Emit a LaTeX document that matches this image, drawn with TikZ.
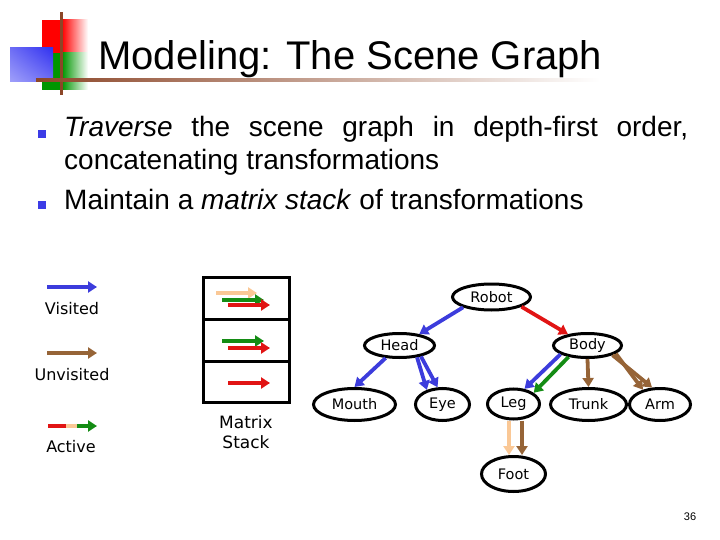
\documentclass[tikz,border=0pt]{standalone}
\usepackage{fontspec}
\setmainfont{Liberation Sans}
\newfontfamily\handfont{DejaVu Sans}
\usetikzlibrary{shapes.geometric,arrows.meta,shadings}
\definecolor{visclr}{RGB}{60,60,220}
\definecolor{unvclr}{RGB}{150,100,55}
\definecolor{curclr}{RGB}{225,20,20}
\definecolor{actclr}{RGB}{20,140,20}
\definecolor{pushclr}{RGB}{250,200,150}
\definecolor{bulclr}{RGB}{60,60,230}
\definecolor{logobrown}{RGB}{140,70,40}
\definecolor{logogreen}{RGB}{0,150,0}
\definecolor{logoblue}{RGB}{50,50,240}
\definecolor{logoblueA}{RGB}{110,110,245}
\definecolor{logoblueB}{RGB}{160,160,250}
\tikzset{
  tnode/.style={ellipse,draw,line width=3pt,inner sep=0pt,
                font=\handfont\fontsize{14.5}{16}\selectfont},
  arr/.style={line width=3.8pt,-{Triangle[length=9pt,width=11pt]}},
  visited/.style={arr,draw=visclr},
  unvisited/.style={arr,draw=unvclr},
  active/.style={arr,draw=actclr},
  pushed/.style={arr,draw=pushclr},
  current/.style={arr,draw=curclr},
  cell/.style={rectangle,draw,line width=3pt,minimum width=86pt,inner sep=0pt},
  legend/.style={font=\handfont\fontsize{16}{18}\selectfont},
  bullet/.style={rectangle,fill=bulclr,minimum size=8pt,inner sep=0pt},
}

\begin{document}
\begin{tikzpicture}[x=1pt,y=-1pt]
\useasboundingbox (0,0) rectangle (720,540);
% logo
\fill[red] (42,20) rectangle (62,53);
\shade[left color=red,right color=white] (62,20) rectangle (88,53);
\fill[logogreen] (42,53) rectangle (62,90);
\shade[left color=logogreen,right color=white] (62,53) rectangle (88,90);
\shade[upper right=logoblue,lower left=logoblueB,upper left=logoblueA,lower right=logoblueA]
  (10,48) rectangle (53,82);
\fill[logobrown] (59.5,12) rectangle (62.5,95);
\shade[left color=logobrown,right color=white] (36,78.5) rectangle (600,81.5);
% title and bullets
\node[anchor=base west,inner sep=0pt,font=\fontsize{40}{40}\selectfont] (title) at (98,70)
  {Modeling: The Scene Graph};
\node[bullet] (b1) at (42,134) {};
\node[bullet] (b2) at (42,205) {};
\node[anchor=base west,inner sep=0pt,font=\fontsize{28}{33}\selectfont] (line1) at (64,137)
  {\makebox[624pt][s]{\textit{Traverse} the scene graph in depth-first order,}};
\node[anchor=base west,inner sep=0pt,font=\fontsize{28}{33}\selectfont] (line2) at (64,170)
  {concatenating transformations};
\node[anchor=base west,inner sep=0pt,font=\fontsize{28}{33}\selectfont] (line3) at (64,210)
  {Maintain a \textit{matrix stack} of transformations};
% legend
\coordinate (vis-a) at (47,287); \coordinate (vis-b) at (97,287);
\coordinate (unv-a) at (47,353); \coordinate (unv-b) at (97,353);
\coordinate (act-a) at (48,426); \coordinate (act-b) at (66,426);
\coordinate (act-c) at (77,426); \coordinate (act-d) at (97,426);
\draw[visited] (vis-a) -- (vis-b);
\draw[unvisited] (unv-a) -- (unv-b);
\draw[line width=3.8pt,curclr] (act-a) -- (act-b);
\draw[line width=3.8pt,pushclr] (act-b) -- (act-c);
\draw[active] (act-c) -- (act-d);
\node[legend] (lvis) at (72,309) {Visited};
\node[legend] (lunv) at (72,375) {Unvisited};
\node[legend] (lact) at (71,447) {Active};
% matrix stack
\node[cell,minimum height=42pt] (top) at (246,298) {};
\node[cell,minimum height=42pt] (mid) at (246,340) {};
\node[cell,minimum height=41pt] (bot) at (246,381.5) {};
\coordinate (t1a) at (216,293); \coordinate (t1b) at (257,293);
\coordinate (t2a) at (222,300); \coordinate (t2b) at (264,300);
\coordinate (t3a) at (228,305); \coordinate (t3b) at (270,305);
\coordinate (m1a) at (222,341); \coordinate (m1b) at (264,341);
\coordinate (m2a) at (228,348); \coordinate (m2b) at (270,348);
\coordinate (b1a) at (228,383); \coordinate (b1b) at (270,383);
\draw[pushed] (t1a) -- (t1b);
\draw[active] (t2a) -- (t2b);
\draw[current] (t3a) -- (t3b);
\draw[active] (m1a) -- (m1b);
\draw[current] (m2a) -- (m2b);
\draw[current] (b1a) -- (b1b);
\node[align=center,font=\handfont\fontsize{17}{20}\selectfont] (stk) at (246,432) {Matrix\\Stack};
% scene graph
\node[tnode,minimum width=78pt,minimum height=26pt] (robot) at (491.5,297) {Robot};
\node[tnode,minimum width=70pt,minimum height=24pt] (head)  at (399.5,345.5) {Head};
\node[tnode,minimum width=68pt,minimum height=24pt] (body)  at (587.5,345.5) {Body};
\node[tnode,minimum width=82pt,minimum height=32pt] (mouth) at (354.5,404.5) {Mouth};
\node[tnode,minimum width=54pt,minimum height=32pt] (eye)   at (442.5,404.5) {Eye};
\node[tnode,minimum width=52pt,minimum height=30pt] (leg)   at (513.5,404) {Leg};
\node[tnode,minimum width=76pt,minimum height=32pt] (trunk) at (588.5,404.5) {Trunk};
\node[tnode,minimum width=61pt,minimum height=32pt] (arm)   at (660,404.5) {Arm};
\node[tnode,minimum width=64pt,minimum height=35pt] (foot)  at (513.5,474) {Foot};
\draw[visited] (robot.200) -- (head.30);
\draw[current] (robot.-18) -- (body.150);
\draw[visited] (head.222) -- (mouth.north);
\draw[visited] (head.-34) -- (eye.137);
\draw[visited] (head.-27) -- (eye.106);
\draw[visited] (body.198) -- (leg.54);
\draw[active] (body.211) -- (leg.29);
\draw[unvisited] (body.south) -- (trunk.north);
\draw[unvisited] (body.-16) -- (arm.139);
\draw[unvisited] (body.-21) -- (arm.115);
\draw[pushed] ([xshift=-4.5pt]leg.south) -- ([xshift=-4.5pt]foot.north);
\draw[unvisited] ([xshift=8.5pt]leg.south) -- ([xshift=8.5pt]foot.north);
\node[font=\fontsize{11}{11}\selectfont] (pnum) at (690,517) {36};
\end{tikzpicture}
\end{document}
